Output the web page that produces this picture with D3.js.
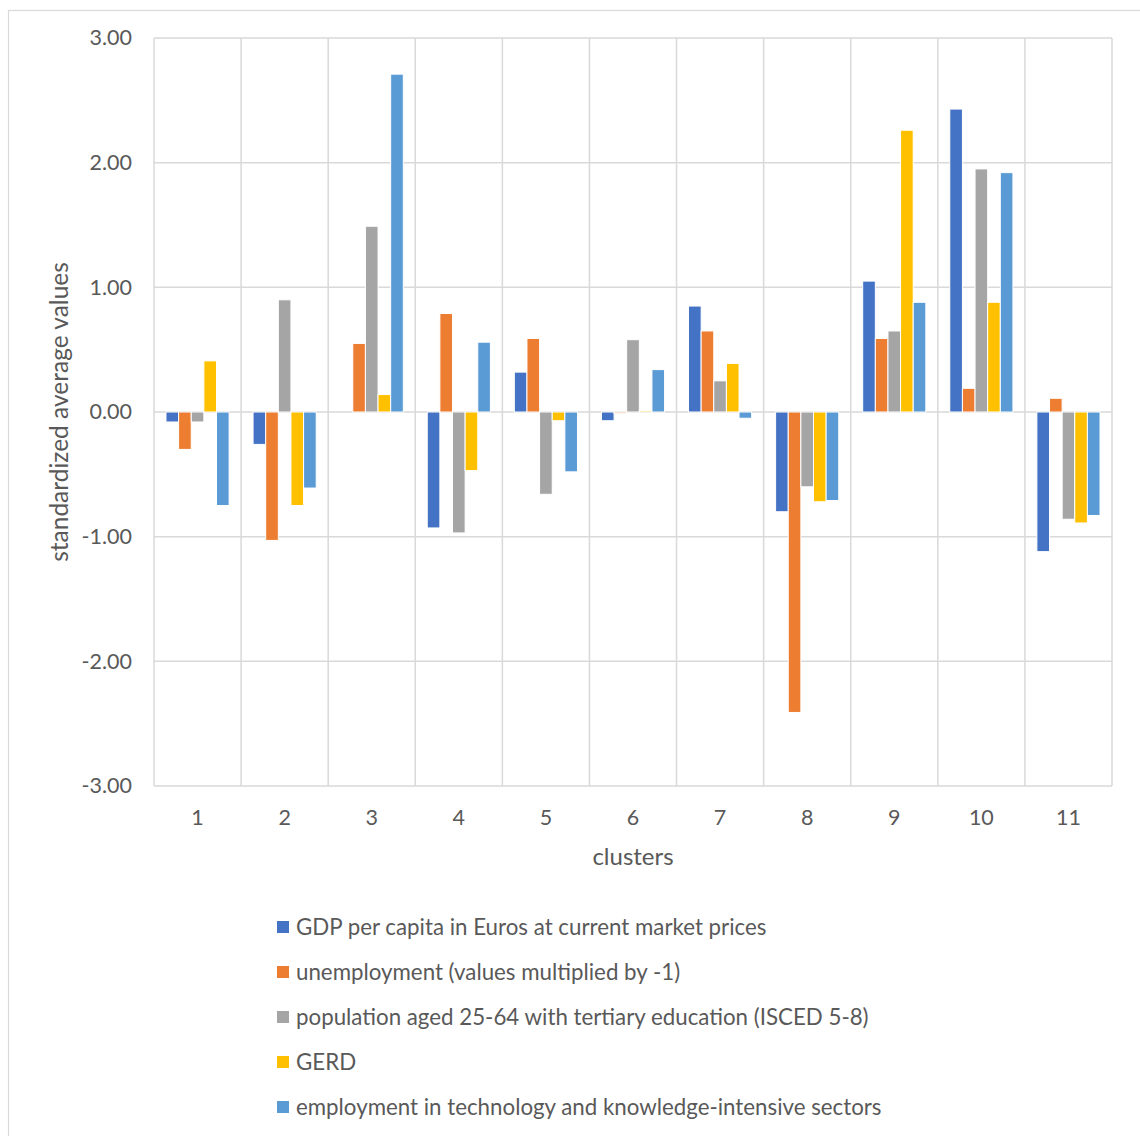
<!DOCTYPE html>
<html><head><meta charset="utf-8">
<script src="https://cdn.jsdelivr.net/npm/d3@7"></script>
<style>body{margin:0;background:#fff;overflow:hidden}</style>
</head><body>
<script>
const clusters = ["1","2","3","4","5","6","7","8","9","10","11"];
const seriesNames = [
  "GDP per capita in Euros at current market prices",
  "unemployment (values multiplied by -1)",
  "population aged 25-64 with tertiary education (ISCED 5-8)",
  "GERD",
  "employment in technology and knowledge-intensive sectors"
];
const gdp          = [-0.08, -0.26, 0.00, -0.93,  0.32, -0.07, 0.85, -0.80, 1.05, 2.43, -1.12];
const unemployment = [-0.30, -1.03, 0.55,  0.79,  0.59, -0.01, 0.65, -2.41, 0.59, 0.19,  0.11];
const tertiary     = [-0.08,  0.90, 1.49, -0.97, -0.66,  0.58, 0.25, -0.60, 0.65, 1.95, -0.86];
const gerd         = [ 0.41, -0.75, 0.14, -0.47, -0.07,  0.01, 0.39, -0.72, 2.26, 0.88, -0.89];
const employment   = [-0.75, -0.61, 2.71,  0.56, -0.48,  0.34, -0.05, -0.71, 0.88, 1.92, -0.83];
const yTicks = [3, 2, 1, 0, -1, -2, -3];
const colors = ["#4472C4", "#ED7D31", "#A5A5A5", "#FFC000", "#5B9BD5"];

(function () {
const seriesValues = [gdp, unemployment, tertiary, gerd, employment];
const W = 1140, H = 1136;
const svg = d3.select("body").append("svg").attr("width", W).attr("height", H)
  .style("font-family", "Lato, 'Open Sans', sans-serif");

svg.append("rect").attr("x", 8.5).attr("y", 10.5).attr("width", 1200).attr("height", 1200)
  .attr("fill", "#fff").attr("stroke", "#d9d9d9").attr("stroke-width", 1.2);

const pl = 154, pr = 1112, pt = 38, pb = 786;
const y = d3.scaleLinear().domain([-3, 3]).range([pb, pt]);
const x = d3.scaleBand().domain(clusters).range([pl, pr]).paddingInner(0.275).paddingOuter(0.1375);
const xi = d3.scaleBand().domain(d3.range(5)).range([0, x.bandwidth()]);
const step = (pr - pl) / clusters.length;

svg.append("g").selectAll("line").data(yTicks).join("line")
  .attr("x1", pl).attr("x2", pr).attr("y1", d => y(d)).attr("y2", d => y(d))
  .attr("stroke", "#d9d9d9").attr("stroke-width", 1.5);
svg.append("g").selectAll("line").data(d3.range(clusters.length + 1)).join("line")
  .attr("x1", i => pl + i * step).attr("x2", i => pl + i * step)
  .attr("y1", pt).attr("y2", pb)
  .attr("stroke", "#d9d9d9").attr("stroke-width", 1.5);

const fmt = d => d3.format(".2f")(d).replace("\u2212", "-");
const yAxis = d3.axisLeft(y).tickValues(yTicks).tickFormat(fmt).tickSize(0).tickPadding(22);
const ya = svg.append("g").attr("transform", `translate(${pl},0)`).call(yAxis);
ya.select(".domain").remove();
ya.selectAll("text").attr("font-size", 21.5).attr("fill", "#595959").style("font-family", "Lato, sans-serif");

const xAxis = d3.axisBottom(x).tickSize(0).tickPadding(24);
const xa = svg.append("g").attr("transform", `translate(0,${pb})`).call(xAxis);
xa.select(".domain").remove();
xa.selectAll("text").attr("font-size", 21.5).attr("fill", "#595959").style("font-family", "Lato, sans-serif");

const data = [];
clusters.forEach((c, ci) => seriesValues.forEach((arr, si) => data.push({c, si, v: arr[ci]})));
svg.append("g").selectAll("rect").data(data).join("rect")
  .attr("x", d => x(d.c) + xi(d.si))
  .attr("width", xi.bandwidth())
  .attr("y", d => y(Math.max(0, d.v)))
  .attr("height", d => Math.abs(y(d.v) - y(0)))
  .attr("fill", d => colors[d.si])
  .attr("stroke", "#fff").attr("stroke-width", 1);

svg.append("text").attr("x", (pl + pr) / 2).attr("y", 865).attr("text-anchor", "middle")
  .attr("font-size", 24).attr("fill", "#595959").text("clusters");
svg.append("text").attr("transform", `translate(68,${(pt + pb) / 2}) rotate(-90)`)
  .attr("text-anchor", "middle").attr("font-size", 24.5).attr("fill", "#595959")
  .text("standardized average values");

const lg = svg.append("g").selectAll("g").data(seriesNames).join("g")
  .attr("transform", (d, i) => `translate(277,${927 + i * 45})`);
lg.append("rect").attr("x", 0).attr("y", -6).attr("width", 12).attr("height", 12)
  .attr("fill", (d, i) => colors[i]);
lg.append("text").attr("x", 19).attr("y", 0).attr("dy", "0.35em")
  .attr("font-size", 22.3).attr("fill", "#595959").text(d => d);
})();
</script>
</body></html>
